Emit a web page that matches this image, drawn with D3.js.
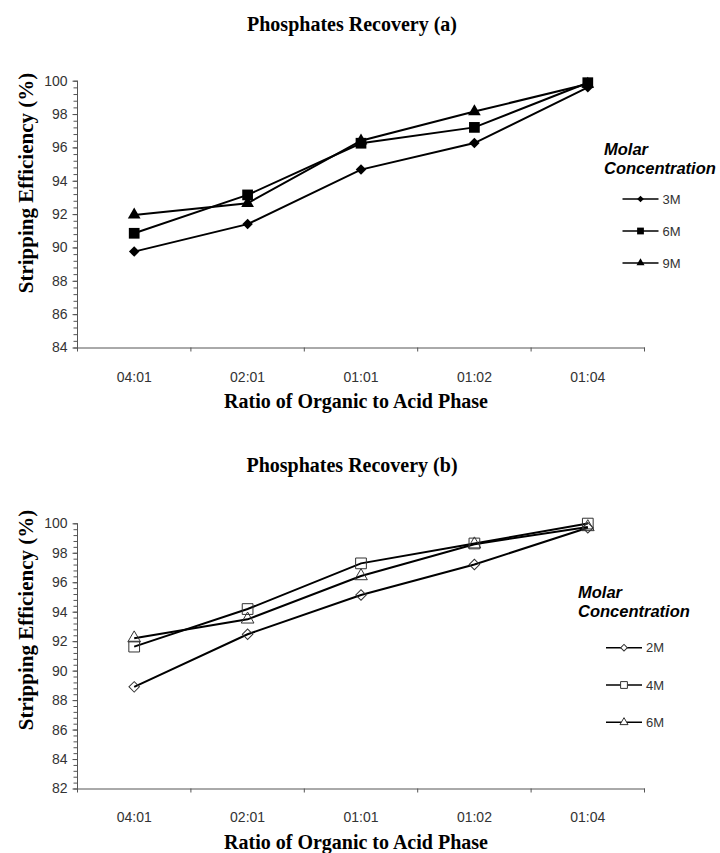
<!DOCTYPE html>
<html>
<head>
<meta charset="utf-8">
<script src="https://cdn.jsdelivr.net/npm/d3@7"></script>
<style>
  body { margin: 0; background: #fff; }
  svg { display: block; }
</style>
</head>
<body>
<script>
//categories on the x axis
var ratios = ["04:01", "02:01", "01:01", "01:02", "01:04"];

//panel (a) series, stripping efficiency (%)
var a3M = [89.75, 91.4, 94.67, 96.26, 99.6];
var a6M = [90.85, 93.15, 96.25, 97.2, 99.88];
var a9M = [91.95, 92.65, 96.4, 98.15, 99.8];

//panel (b) series
var b2M = [88.9, 92.47, 95.13, 97.2, 99.7];
var b4M = [91.63, 94.18, 97.28, 98.63, 99.98];
var b6M = [92.2, 93.48, 96.42, 98.58, 99.75];

//y axis tick labels
var aTicks = [84, 86, 88, 90, 92, 94, 96, 98, 100];
var bTicks = [82, 84, 86, 88, 90, 92, 94, 96, 98, 100];

var width = 720, height = 853;

var svg = d3.select("body").append("svg")
  .attr("width", width)
  .attr("height", height);

var serif = "'Liberation Serif', 'Times New Roman', serif";
var sans = "'Liberation Sans', Arial, sans-serif";

//diamond = square turned 45 degrees
function markerTransform(shape, px, py){
  var t = "translate(" + px + "," + py + ")";
  return shape === "diamond" ? t + " rotate(45)" : t;
}
function markerType(shape){
  return shape === "triangle" ? d3.symbolTriangle : d3.symbolSquare;
}

//draw one panel
function drawPanel(p){
  var g = svg.append("g");

  var x = d3.scaleBand()
    .domain(ratios)
    .range([77.5, 644.5])
    .paddingInner(0).paddingOuter(0);

  var y = d3.scaleLinear()
    .domain([p.ticks[0], p.ticks[p.ticks.length - 1]])
    .range([p.bottom, p.top]);

  //title
  g.append("text")
    .attr("x", 352).attr("y", p.titleY)
    .attr("text-anchor", "middle")
    .style("font-family", serif).style("font-weight", "bold")
    .style("font-size", "20px").attr("fill", "#000")
    .text(p.title);

  //minor y ticks
  var minor = d3.range(p.ticks[0], 100.001, 0.4);
  g.append("g")
    .attr("transform", "translate(" + x.range()[0] + ",0)")
    .call(d3.axisLeft(y).tickValues(minor).tickSize(4).tickFormat(""))
    .call(function(s){
      s.select(".domain").remove();
      s.selectAll("line").attr("stroke", "#555");
    });

  //major y ticks + labels
  g.append("g")
    .attr("transform", "translate(" + x.range()[0] + ",0)")
    .call(d3.axisLeft(y).tickValues(p.ticks).tickSize(5).tickPadding(5).tickFormat(d3.format("d")))
    .call(function(s){
      s.select(".domain").attr("d", "M0," + (p.bottom + 4) + "V" + p.top).attr("stroke", "#555");
      s.selectAll("line").attr("stroke", "#555");
      s.selectAll("text")
        .style("font-family", sans).style("font-size", "14px").attr("fill", "#333");
    });

  //x axis labels
  g.append("g")
    .attr("transform", "translate(0," + p.bottom + ")")
    .call(d3.axisBottom(x).tickSize(0).tickPadding(p.labelPad))
    .call(function(s){
      s.select(".domain").attr("stroke", "#555");
      s.selectAll("text")
        .style("font-family", sans).style("font-size", "14px").attr("fill", "#333");
    });

  //x tick marks at category boundaries
  var bounds = ratios.slice(1).map(function(d){ return x(d); }).concat([x.range()[1]]);
  g.selectAll(".xt")
    .data(bounds)
    .enter().append("line")
    .attr("x1", function(d){ return d; }).attr("x2", function(d){ return d; })
    .attr("y1", p.bottom).attr("y2", p.bottom + 4)
    .attr("stroke", "#555");

  //axis titles
  g.append("text")
    .attr("transform", "translate(" + 33 + "," + p.yLabelY + ") rotate(-90)")
    .attr("text-anchor", "middle")
    .style("font-family", serif).style("font-weight", "bold")
    .style("font-size", "21px").attr("fill", "#000")
    .text("Stripping Efficiency (%)");

  g.append("text")
    .attr("x", 356).attr("y", p.xLabelY)
    .attr("text-anchor", "middle")
    .style("font-family", serif).style("font-weight", "bold")
    .style("font-size", "20px").attr("fill", "#000")
    .text("Ratio of Organic to Acid Phase");

  var cx = function(i){ return x(ratios[i]) + x.bandwidth() / 2; };
  var line = d3.line()
    .x(function(d, i){ return cx(i); })
    .y(function(d){ return y(d); });

  p.series.forEach(function(s){
    g.append("path")
      .datum(s.values)
      .attr("d", line)
      .attr("fill", "none")
      .attr("stroke", "#000")
      .attr("stroke-width", 2);
  });

  p.series.forEach(function(s){
    g.selectAll(null)
      .data(s.values)
      .enter().append("path")
      .attr("transform", function(d, i){ return markerTransform(s.shape, cx(i), y(d)); })
      .attr("d", d3.symbol().type(markerType(s.shape)).size(s.size))
      .attr("fill", p.hollow ? "none" : "#000")
      .attr("stroke", p.hollow ? "#333" : "none")
      .attr("stroke-width", 1);
  });

  //legend
  var lg = g.append("g");
  lg.append("text")
    .attr("x", p.legX).attr("y", p.legY)
    .style("font-family", sans).style("font-weight", "bold").style("font-style", "italic")
    .style("font-size", "16.5px").attr("fill", "#000")
    .text("Molar");
  lg.append("text")
    .attr("x", p.legX).attr("y", p.legY + 19)
    .style("font-family", sans).style("font-weight", "bold").style("font-style", "italic")
    .style("font-size", "16.5px").attr("fill", "#000")
    .text("Concentration");

  p.series.forEach(function(s, i){
    var ly = p.entryY + i * p.entryGap;
    lg.append("line")
      .attr("x1", p.entryX).attr("x2", p.entryX + 36)
      .attr("y1", ly).attr("y2", ly)
      .attr("stroke", "#000").attr("stroke-width", 1.5);
    lg.append("path")
      .attr("transform", markerTransform(s.shape, p.entryX + 18, ly))
      .attr("d", d3.symbol().type(markerType(s.shape)).size(s.size * 0.4))
      .attr("fill", p.hollow ? "#fff" : "#000")
      .attr("stroke", p.hollow ? "#333" : "none");
    lg.append("text")
      .attr("x", p.entryX + 40).attr("y", ly + 4.5)
      .style("font-family", sans).style("font-size", "13px").attr("fill", "#333")
      .text(s.name);
  });
}

drawPanel({
  title: "Phosphates Recovery (a)",
  titleY: 31,
  top: 80.7, bottom: 347.5,
  ticks: aTicks,
  labelPad: 25,
  yLabelY: 183,
  xLabelY: 408,
  hollow: false,
  legX: 604, legY: 155,
  entryX: 622.5, entryY: 199, entryGap: 32,
  series: [
    {name: "3M", values: a3M, shape: "diamond", size: 55},
    {name: "6M", values: a6M, shape: "square", size: 115},
    {name: "9M", values: a9M, shape: "triangle", size: 70}
  ]
});

drawPanel({
  title: "Phosphates Recovery (b)",
  titleY: 472,
  top: 523.3, bottom: 788.5,
  ticks: bTicks,
  labelPad: 24,
  yLabelY: 620,
  xLabelY: 849,
  hollow: true,
  legX: 578, legY: 598,
  entryX: 606, entryY: 647.7, entryGap: 37.3,
  series: [
    {name: "2M", values: b2M, shape: "diamond", size: 55},
    {name: "4M", values: b4M, shape: "square", size: 115},
    {name: "6M", values: b6M, shape: "triangle", size: 70}
  ]
});
</script>
</body>
</html>
